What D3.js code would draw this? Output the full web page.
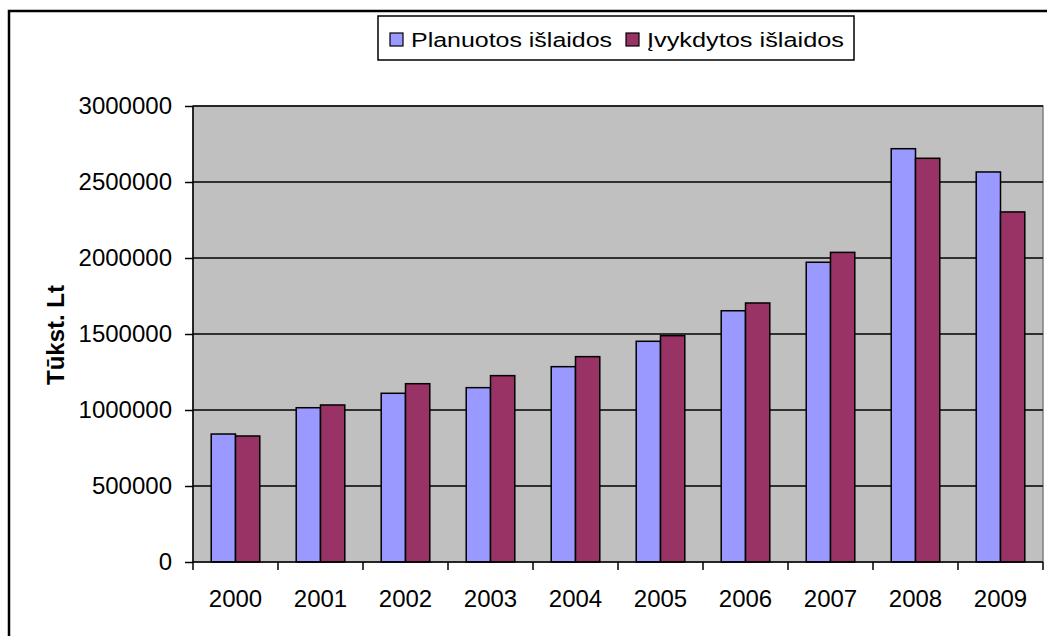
<!DOCTYPE html>
<html>
<head>
<meta charset="utf-8">
<script src="https://cdn.jsdelivr.net/npm/d3@7/dist/d3.min.js"></script>
<style>
  html, body { margin: 0; padding: 0; background: #fff; }
  svg { display: block; font-family: "Liberation Sans", Arial, sans-serif; }
</style>
</head>
<body>
<svg id="chart" width="1047" height="636"></svg>
<script>
// Budget expenditure, thousand Lt
const years = ["2000", "2001", "2002", "2003", "2004", "2005", "2006", "2007", "2008", "2009"];
const planned = [842000, 1015000, 1110000, 1147000, 1285000, 1452000, 1653000, 1972000, 2719000, 2566000];
const actual  = [829000, 1033000, 1173000, 1226000, 1351000, 1489000, 1704000, 2037000, 2656000, 2303000];
const seriesNames = ["Planuotos išlaidos", "Įvykdytos išlaidos"];
const seriesColors = ["#9999FF", "#993366"];
const yTicks = [0, 500000, 1000000, 1500000, 2000000, 2500000, 3000000];

const svg = d3.select("#chart");
const FONT = "'Liberation Sans', Arial, sans-serif";

// outer chart frame (runs off the right and bottom edges)
svg.append("rect")
  .attr("x", 9).attr("y", 11)
  .attr("width", 1100).attr("height", 700)
  .attr("fill", "#fff").attr("stroke", "#000").attr("stroke-width", 2.5);

const plot = { left: 193, right: 1043, top: 106, bottom: 562 };

const x = d3.scaleBand().domain(years).range([plot.left, plot.right]).paddingInner(0).paddingOuter(0);
const y = d3.scaleLinear().domain([0, 3000000]).range([plot.bottom, plot.top]);

// plot background
svg.append("rect")
  .attr("x", plot.left).attr("y", plot.top)
  .attr("width", plot.right - plot.left).attr("height", plot.bottom - plot.top)
  .attr("fill", "#C0C0C0").attr("stroke", "#808080").attr("stroke-width", 1.5);

// horizontal gridlines
svg.append("g").selectAll("line")
  .data(yTicks.filter(d => d > 0))
  .join("line")
  .attr("x1", plot.left).attr("x2", plot.right)
  .attr("y1", d => y(d)).attr("y2", d => y(d))
  .attr("stroke", "#000").attr("stroke-width", 1.5);

// bars: two per year
const bw = x.bandwidth();
const barW = bw / 3.5;
const offset = (bw - 2 * barW) / 2;
const data = years.map((yr, i) => ({ yr, vals: [planned[i], actual[i]] }));

const groups = svg.append("g").selectAll("g")
  .data(data).join("g")
  .attr("transform", d => `translate(${x(d.yr) + offset},0)`);

groups.selectAll("rect")
  .data(d => d.vals.map((v, s) => ({ v, s })))
  .join("rect")
  .attr("x", d => d.s * barW)
  .attr("y", d => y(d.v))
  .attr("width", barW)
  .attr("height", d => y(0) - y(d.v))
  .attr("fill", d => seriesColors[d.s])
  .attr("stroke", "#000").attr("stroke-width", 1.5);

// y axis
const yAxis = d3.axisLeft(y).tickValues(yTicks).tickSize(8).tickPadding(13)
  .tickFormat(d3.format("d"));
const gy = svg.append("g").attr("transform", `translate(${plot.left},0)`).call(yAxis);
gy.select(".domain").attr("stroke", "#000").attr("stroke-width", 1.5).attr("d", `M0,${plot.top}V${plot.bottom}`);
gy.selectAll(".tick line").attr("stroke", "#000").attr("stroke-width", 1.5);
gy.selectAll(".tick text").attr("font-size", 24).attr("fill", "#000").attr("font-family", FONT);

// x axis: ticks on category boundaries, labels centred
const gx = svg.append("g").attr("transform", `translate(0,${plot.bottom})`);
gx.append("line").attr("x1", plot.left).attr("x2", plot.right)
  .attr("stroke", "#000").attr("stroke-width", 1.5);
const bounds = years.map(d => x(d)).concat([plot.right]);
gx.selectAll("line.tk").data(bounds).join("line").attr("class", "tk")
  .attr("x1", d => d).attr("x2", d => d).attr("y1", 0).attr("y2", 8)
  .attr("stroke", "#000").attr("stroke-width", 1.5);
gx.selectAll("text").data(years).join("text")
  .attr("x", d => x(d) + bw / 2).attr("y", 45)
  .attr("text-anchor", "middle").attr("font-size", 24).attr("fill", "#000")
  .text(d => d);

// y axis title
svg.append("text")
  .attr("transform", "translate(64,335) rotate(-90)")
  .attr("text-anchor", "middle")
  .attr("font-size", 24).attr("font-weight", "bold")
  .text("Tūkst. Lt");

// legend
const lg = svg.append("g");
lg.append("rect").attr("x", 378).attr("y", 16).attr("width", 476).attr("height", 44)
  .attr("fill", "#fff").attr("stroke", "#000").attr("stroke-width", 1.5);
const legendX = [390, 626];
const legendW = [201, 197];
seriesNames.forEach((name, i) => {
  lg.append("rect").attr("x", legendX[i]).attr("y", 33).attr("width", 13).attr("height", 13)
    .attr("fill", seriesColors[i]).attr("stroke", "#000").attr("stroke-width", 1.2);
  lg.append("text").attr("x", legendX[i] + 21).attr("y", 47)
    .attr("font-size", 20.5).attr("fill", "#000")
    .attr("textLength", legendW[i]).attr("lengthAdjust", "spacingAndGlyphs")
    .text(name);
});
</script>
</body>
</html>
